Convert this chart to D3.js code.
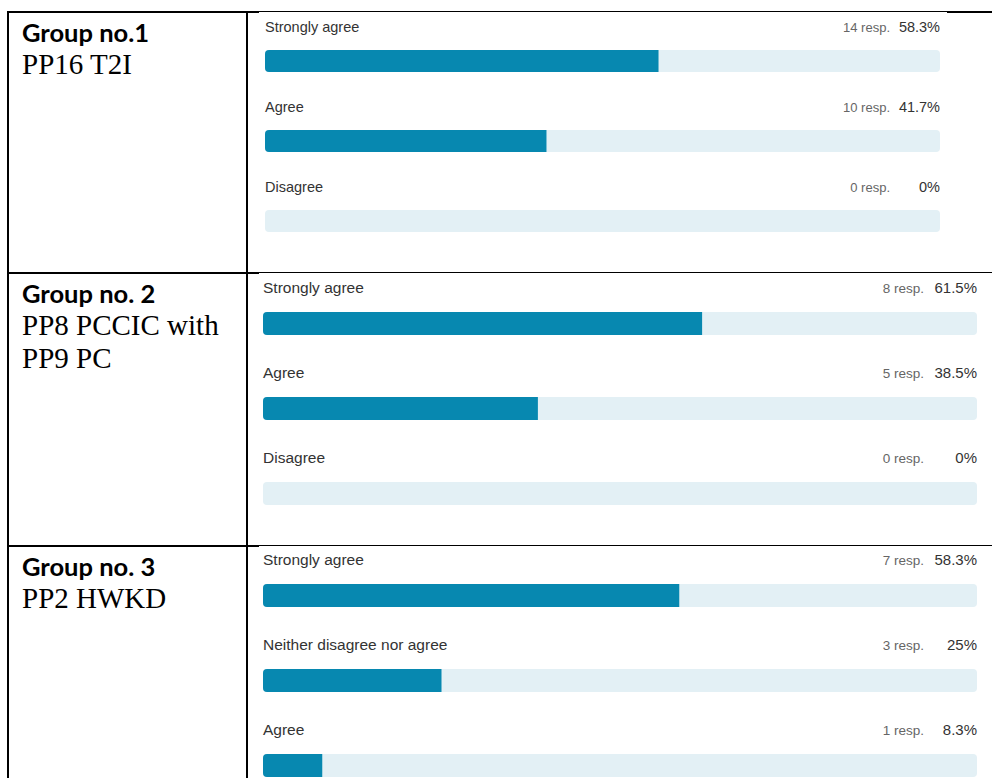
<!DOCTYPE html>
<html>
<head>
<meta charset="utf-8">
<script src="https://cdn.jsdelivr.net/npm/d3@7"></script>
<style>
  body { margin: 0; background: #fff; }
  svg { display: block; }
</style>
</head>
<body>
<div id="chart"></div>
<script>
// Data
const groupTitles = ["Group no.1", "Group no. 2", "Group no. 3"];
const groupNames = [["PP16 T2I"], ["PP8 PCCIC with", "PP9 PC"], ["PP2 HWKD"]];

const group1Answers = ["Strongly agree", "Agree", "Disagree"];
const group1Resp = [14, 10, 0];
const group1Pct = [58.3, 41.7, 0];

const group2Answers = ["Strongly agree", "Agree", "Disagree"];
const group2Resp = [8, 5, 0];
const group2Pct = [61.5, 38.5, 0];

const group3Answers = ["Strongly agree", "Neither disagree nor agree", "Agree"];
const group3Resp = [7, 3, 1];
const group3Pct = [58.3, 25, 8.3];

const width = 992;
const height = 778;

const svg = d3.select("#chart")
  .append("svg")
  .attr("width", width)
  .attr("height", height);

// Table layout
const tableLeft = 7;
const colSplit = 246;
const rowLines = [11, 272, 545];

// Function to draw table borders (2px black rules)
function drawTable() {
  const g = svg.append("g").attr("fill", "#000");
  rowLines.forEach(y => {
    g.append("rect").attr("x", tableLeft).attr("y", y).attr("width", width - tableLeft).attr("height", 2);
  });
  g.append("rect").attr("x", tableLeft).attr("y", rowLines[0]).attr("width", 2).attr("height", height - rowLines[0]);
  g.append("rect").attr("x", colSplit).attr("y", rowLines[0]).attr("width", 2).attr("height", height - rowLines[0]);
}

// Function to draw left column text
function drawGroupLabel(i, top) {
  const g = svg.append("g");
  g.append("text")
    .attr("x", 22)
    .attr("y", top + 31)
    .attr("font-family", "Lato, 'Open Sans', sans-serif")
    .attr("font-weight", "bold")
    .attr("font-size", "25.5px")
    .attr("fill", "#000")
    .text(groupTitles[i]);
  groupNames[i].forEach((line, j) => {
    g.append("text")
      .attr("x", 22)
      .attr("y", top + 63 + j * 33)
      .attr("font-family", "'Liberation Serif', 'Times New Roman', serif")
      .attr("font-size", "29px")
      .attr("fill", "#000")
      .text(line);
  });
}

// Function to draw one survey summary panel
function drawPanel(opts, answers, resp, pct) {
  // white screenshot area sits over half of the cell border
  svg.append("rect")
    .attr("x", opts.left)
    .attr("y", opts.top)
    .attr("width", opts.right - opts.left)
    .attr("height", opts.bottom - opts.top)
    .attr("fill", "#fff");

  const x = d3.scaleLinear()
    .domain([0, 100])
    .range([opts.x0, opts.x1]);

  const g = svg.append("g").style("font-family", "'Liberation Sans', Arial, sans-serif");

  answers.forEach((label, i) => {
    const cy = opts.firstY + i * opts.step;
    const barY = cy + opts.gap;

    g.append("text")
      .attr("x", opts.x0)
      .attr("y", cy)
      .attr("dy", "0.35em")
      .attr("font-size", opts.labelSize + "px")
      .attr("fill", "#333")
      .text(label);

    g.append("text")
      .attr("x", opts.x1 - opts.respGap)
      .attr("y", cy)
      .attr("dy", "0.35em")
      .attr("text-anchor", "end")
      .attr("font-size", opts.respSize + "px")
      .attr("fill", "#666")
      .text(resp[i] + " resp.");

    g.append("text")
      .attr("x", opts.x1)
      .attr("y", cy)
      .attr("dy", "0.35em")
      .attr("text-anchor", "end")
      .attr("font-size", opts.pctSize + "px")
      .attr("fill", "#333")
      .text(pct[i] + "%");

    g.append("rect")
      .attr("x", x(0))
      .attr("y", barY)
      .attr("width", x(100) - x(0))
      .attr("height", opts.barH)
      .attr("rx", 4)
      .attr("fill", "#e3f0f5");

    if (pct[i] > 0) {
      g.append("path")
        .attr("d", roundedLeft(x(0), barY, x(pct[i]) - x(0), opts.barH, 4))
        .attr("fill", "#0788b0");
    }
  });
}

// bar with rounded left corners only
function roundedLeft(x, y, w, h, r) {
  return `M${x + r},${y}H${x + w}V${y + h}H${x + r}` +
    `A${r},${r} 0 0 1 ${x},${y + h - r}V${y + r}A${r},${r} 0 0 1 ${x + r},${y}Z`;
}

drawTable();

drawGroupLabel(0, rowLines[0]);
drawGroupLabel(1, rowLines[1]);
drawGroupLabel(2, rowLines[2]);

drawPanel({
  left: 259, right: 947, top: 12, bottom: 272,
  x0: 265, x1: 940, firstY: 27, step: 80, gap: 23, barH: 22,
  labelSize: 14.5, respSize: 13, pctSize: 14.5, respGap: 50
}, group1Answers, group1Resp, group1Pct);

drawPanel({
  left: 259, right: width, top: 273, bottom: 545,
  x0: 263, x1: 977, firstY: 288, step: 85, gap: 24, barH: 23,
  labelSize: 15.5, respSize: 13.5, pctSize: 15, respGap: 53
}, group2Answers, group2Resp, group2Pct);

drawPanel({
  left: 259, right: width, top: 546, bottom: height,
  x0: 263, x1: 977, firstY: 560, step: 85, gap: 24, barH: 23,
  labelSize: 15.5, respSize: 13.5, pctSize: 15, respGap: 53
}, group3Answers, group3Resp, group3Pct);
</script>
</body>
</html>
